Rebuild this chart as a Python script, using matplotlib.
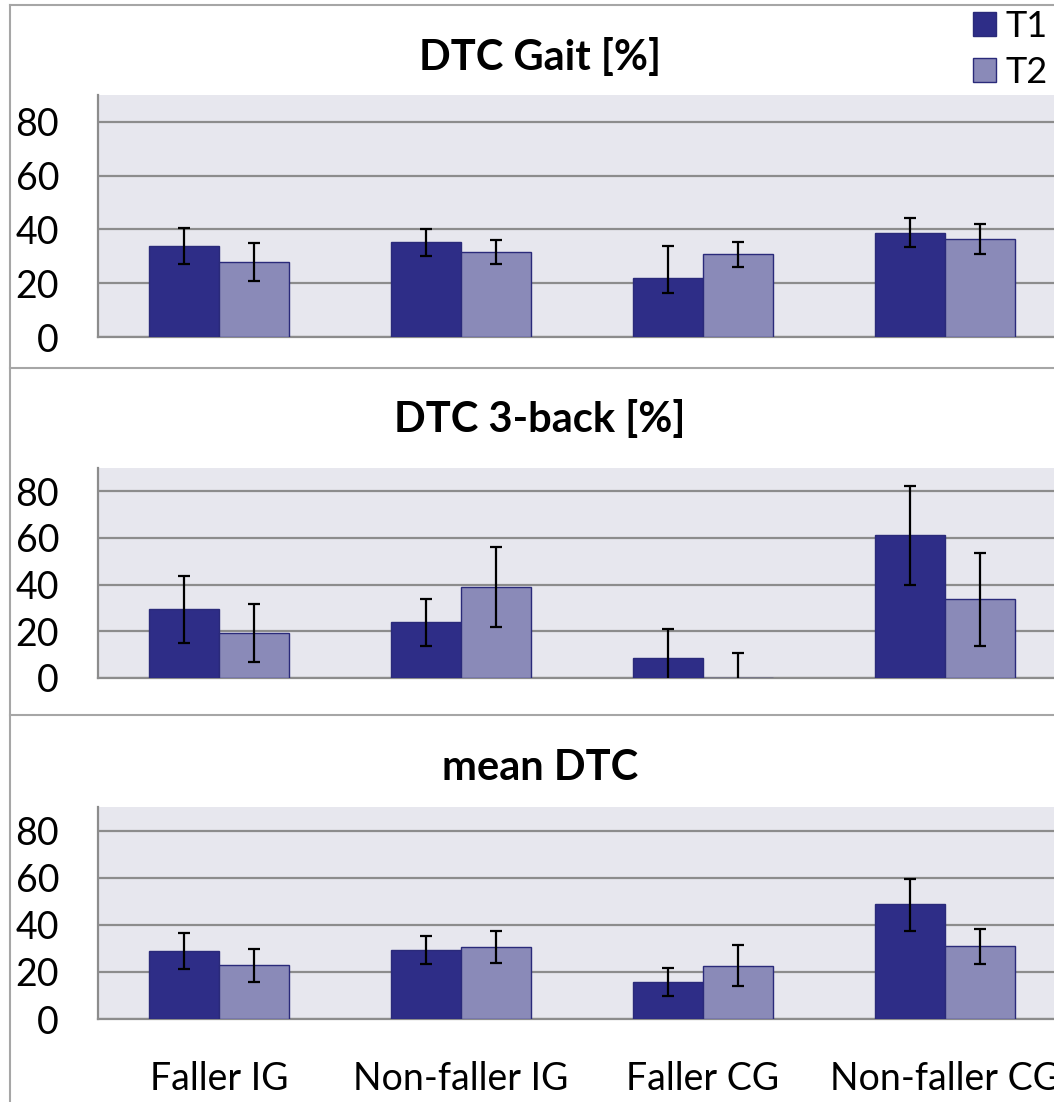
import matplotlib
matplotlib.use("Agg")
import matplotlib.pyplot as plt
import numpy as np
from matplotlib.lines import Line2D
from matplotlib.patches import Patch

plt.rcParams['font.family'] = ['Lato', 'DejaVu Sans']

groups = ["Faller IG", "Non-faller IG", "Faller CG", "Non-faller CG"]
titles = ["DTC Gait [%]", "DTC 3-back [%]", "mean DTC"]

# values, then lower / upper error lengths
gait_t1 = [34.0, 35.3, 21.9, 38.7]
gait_t2 = [28.0, 31.7, 30.8, 36.5]
gait_t1_lo = [6.8, 5.0, 5.5, 5.2]
gait_t1_hi = [6.6, 4.8, 12.1, 5.4]
gait_t2_lo = [7.1, 4.4, 4.6, 5.7]
gait_t2_hi = [7.0, 4.3, 4.6, 5.6]

back_t1 = [29.6, 24.0, 8.7, 61.4]
back_t2 = [19.2, 39.0, 0.0, 33.9]
back_t1_lo = [14.4, 10.2, 12.2, 21.4]
back_t1_hi = [14.2, 9.8, 12.2, 21.0]
back_t2_lo = [12.5, 17.3, 10.6, 20.1]
back_t2_hi = [12.6, 17.1, 10.6, 19.8]

mean_t1 = [28.9, 29.4, 15.7, 48.8]
mean_t2 = [22.8, 30.6, 22.6, 30.9]
mean_t1_lo = [7.8, 6.2, 6.0, 11.4]
mean_t1_hi = [7.6, 5.8, 6.0, 10.8]
mean_t2_lo = [7.2, 7.0, 8.6, 7.5]
mean_t2_hi = [7.0, 6.6, 8.8, 7.3]

panels = [(gait_t1, gait_t2, [gait_t1_lo, gait_t1_hi], [gait_t2_lo, gait_t2_hi]),
          (back_t1, back_t2, [back_t1_lo, back_t1_hi], [back_t2_lo, back_t2_hi]),
          (mean_t1, mean_t2, [mean_t1_lo, mean_t1_hi], [mean_t2_lo, mean_t2_hi])]

c1, c2, edge = "#2e2d87", "#8a8ab8", "#2a2a7a"
bg, grid = "#e7e7ee", "#8c8c8c"

W, H = 1054, 1102
fig = plt.figure(figsize=(W / 100, H / 100), dpi=100)

# axes boxes in pixels: (zero line y, height, title y)
boxes = [(337, 242, 58), (678, 210, 420), (1019, 212, 768)]
left, cw = 98, 242
x = np.arange(len(groups))
bw = 0.289

for (t1, t2, e1, e2), (y0, h, ty), title in zip(panels, boxes, titles):
    ax = fig.add_axes([left / W, (H - y0) / H, 4 * cw / W, h / H])
    ax.set_facecolor(bg)
    ax.bar(x - bw / 2, t1, bw, color=c1, edgecolor=edge, lw=1, zorder=3)
    ax.bar(x + bw / 2, t2, bw, color=c2, edgecolor=edge, lw=1, zorder=3)
    ax.errorbar(x - bw / 2, t1, yerr=e1, fmt="none", ecolor="black", elinewidth=1.6,
                capsize=4.5, capthick=1.6, zorder=4)
    ax.errorbar(x + bw / 2, t2, yerr=e2, fmt="none", ecolor="black", elinewidth=1.6,
                capsize=4.5, capthick=1.6, zorder=4)
    ax.set_xlim(-0.5, 3.5)
    ax.set_ylim(0, 90)
    ax.set_yticks([0, 20, 40, 60, 80])
    ax.tick_params(axis="y", length=0, pad=28, labelsize=27)
    ax.tick_params(axis="x", length=0, pad=30, labelsize=27)
    ax.yaxis.grid(True, color=grid, lw=1.6, zorder=0)
    ax.set_axisbelow(True)
    for s in ["top", "right"]:
        ax.spines[s].set_visible(False)
    for s in ["left", "bottom"]:
        ax.spines[s].set_color(grid)
        ax.spines[s].set_linewidth(1.6)
    if title == "mean DTC":
        ax.set_xticks(x)
        ax.set_xticklabels(groups)
    else:
        ax.set_xticks([])
    fig.text(540 / W, 1 - ty / H, title, ha="center", va="center",
             fontsize=30, fontweight="bold")

# chart frames
fc = "#a6a6a6"
fig.add_artist(Line2D([10 / W, 10 / W], [0, 1 - 5 / H], color=fc, lw=1.5))
for yy in [5, 368, 715]:
    fig.add_artist(Line2D([10 / W, 1], [1 - yy / H] * 2, color=fc, lw=1.5))

h = [Patch(facecolor=c1, edgecolor=edge, label="T1"),
     Patch(facecolor=c2, edgecolor=edge, label="T2")]
fig.legend(handles=h, loc="upper left", bbox_to_anchor=(973 / W, 1 - 10 / H),
           frameon=False, fontsize=26, handlelength=0.65, handleheight=0.65,
           handletextpad=0.25, labelspacing=0.35, borderpad=0, borderaxespad=0)

fig.savefig("out.png", dpi=100)
